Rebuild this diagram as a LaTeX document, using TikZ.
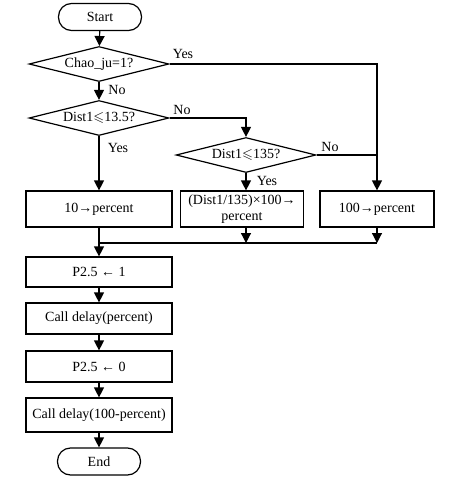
\documentclass[tikz,border=0pt]{standalone}
\usepackage{amssymb}
\usepackage{fontspec}
\setmainfont{Liberation Serif}
\usetikzlibrary{shapes.geometric,arrows.meta}
\begin{document}
\begin{tikzpicture}[x=1pt,y=-1pt,
  every node/.style={font=\fontsize{14}{16}\selectfont},
  line/.style={line width=1.2pt},
  arr/.style={line width=1.2pt,-{Triangle[length=10pt,width=10pt]}},
  term/.style={draw,line width=1.2pt,rounded corners=13pt,minimum width=83pt,minimum height=27pt,inner sep=0pt},
  proc/.style={draw,line width=1.2pt,minimum height=31pt,inner sep=0pt,align=center},
  dec/.style={draw,line width=1.2pt,diamond,aspect=4,minimum width=140pt,minimum height=35pt,inner sep=0pt},
  lbl/.style={inner sep=0pt}]
\useasboundingbox (0,0) rectangle (451,480);
\node[term] (start) at (100,17) {Start};
\node[dec] (d1) at (99,64) {Chao\_ju=1?};
\node[dec] (d2) at (99,118) {Dist1$\leqslant$13.5?};
\node[dec] (d3) at (246,155) {Dist1$\leqslant$135?};
\node[proc,minimum width=146pt,minimum height=36pt] (b1) at (99,209) {10→percent};
\node[proc,minimum width=123pt,minimum height=36pt] (b2) at (242,209) {(Dist1/135)×100→\\percent};
\node[proc,minimum width=114pt,minimum height=36pt] (b3) at (377,209) {100→percent};
\coordinate (m) at (99,243);
\node[proc,minimum width=146pt,minimum height=30pt] (p1) at (99,272) {P2.5 ← 1};
\node[proc,minimum width=146pt] (c1) at (99,318.5) {Call delay(percent)};
\node[proc,minimum width=146pt] (p0) at (99,366.5) {P2.5 ← 0};
\node[proc,minimum width=146pt,minimum height=34pt] (c2) at (99,415) {Call delay(100-percent)};
\node[term] (end) at (99,461.5) {End};

\draw[arr] (start) -- (d1);
\draw[arr] (d1) -- (d2);
\draw[arr] (d1.east) -- (d1.east -| b3.north) -- (b3.north);
\draw[arr] (d2.east) -- (d2.east -| d3.north) -- (d3.north);
\draw[line] (d3.east) -- (d3.east -| b3.north);
\draw[arr] (d2.south) -- (b1.north);
\draw[arr] (d3.south) -- (d3.south |- b2.north);
\draw[arr] (b2.south -| d3.south) -- (m -| d3.south);
\draw[arr] (b3.south) -- (m -| b3.south);
\draw[line] (m) -- (m -| b3.south);
\draw[arr] (b1.south) -- (p1.north);
\draw[arr] (p1) -- (c1);
\draw[arr] (c1) -- (p0);
\draw[arr] (p0) -- (c2);
\draw[arr] (c2) -- (end);

\node[lbl] (y1) at (183,54) {Yes};
\node[lbl] (n1) at (117,90) {No};
\node[lbl] (n2) at (182,110) {No};
\node[lbl] (y2) at (118,148) {Yes};
\node[lbl] (n3) at (330,147) {No};
\node[lbl] (y3) at (267,181) {Yes};
\end{tikzpicture}
\end{document}
